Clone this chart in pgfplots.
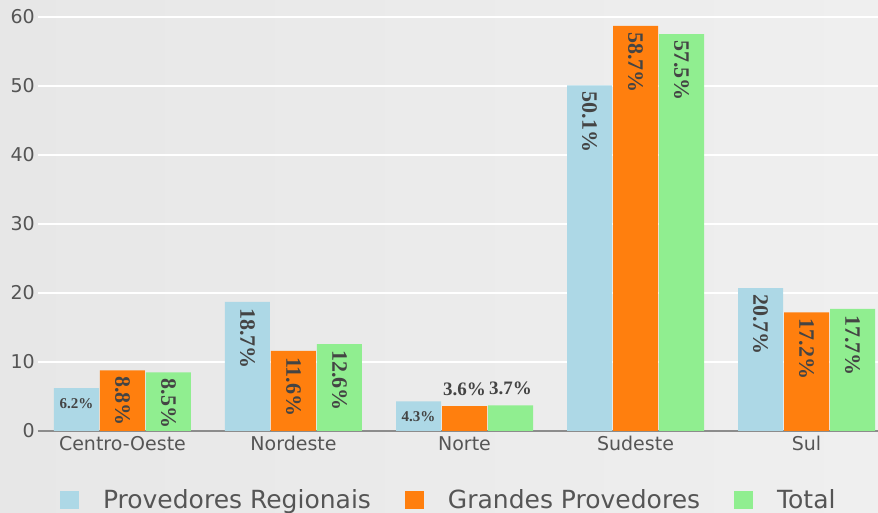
\documentclass[border=0pt]{standalone}
\usepackage{pgfplots}
\pgfplotsset{compat=1.18}
\usepackage{pgfplotstable}
\usepackage{fontspec}
\setmainfont{DejaVu Sans}
\newfontfamily\lblfont{Liberation Serif}
\definecolor{cblue}{HTML}{ADD8E6}
\definecolor{corange}{HTML}{FF7F0E}
\definecolor{cgreen}{HTML}{90EE90}
\definecolor{txtgray}{HTML}{555555}
\definecolor{lblgray}{HTML}{444444}
\definecolor{axgray}{HTML}{8C8C8C}
\definecolor{bgl}{HTML}{E7E7E7}
\definecolor{bgr}{HTML}{EFEFEF}

\pgfplotstableread{
x y lab
0 6.2 {}
1 18.7 18.7\%
2 4.3 {}
3 50.1 50.1\%
4 20.7 20.7\%
}\regionais
\pgfplotstableread{
x y lab
0 8.8 8.8\%
1 11.6 11.6\%
2 3.6 {}
3 58.7 58.7\%
4 17.2 17.2\%
}\grandes
\pgfplotstableread{
x y lab
0 8.5 8.5\%
1 12.6 12.6\%
2 3.7 {}
3 57.5 57.5\%
4 17.7 17.7\%
}\total
\pgfplotstableread{
x y lab
0 6.2 6.2\%
2 4.3 4.3\%
}\smallin
\pgfplotstableread{
x y lab
2 3.6 3.6\%
}\smallg
\pgfplotstableread{
x y lab
2 3.7 3.7\%
}\smallt

\begin{document}
\begin{tikzpicture}
\useasboundingbox (0,0) rectangle (878pt,513pt);
\shade[left color=bgl, right color=bgr] (0,0) rectangle (878pt,513pt);
\begin{axis}[
  at={(38pt,82pt)}, anchor=south west,
  scale only axis, width=840pt, height=414pt,
  xmin=-0.494, xmax=4.418, ymin=0, ymax=60,
  ybar=1pt, bar width=45pt,
  axis line style={draw=none},
  major tick length=0pt,
  ytick={0,10,...,60},
  /pgf/number format/assume math mode=true,
  ymajorgrids, grid style={white, line width=2pt},
  extra y ticks={0}, extra y tick labels={},
  extra y tick style={grid style={axgray, line width=2pt}},
  xtick={0,...,4},
  xticklabels={Centro-Oeste,Nordeste,Norte,Sudeste,Sul},
  tick label style={font=\fontsize{19}{23}\selectfont, text=txtgray},
  yticklabel style={inner sep=0pt, xshift=-3pt},
  xticklabel style={inner sep=0pt, yshift=-5pt},
  legend columns=3,
  legend style={at={(0.489,-0.166)}, anchor=center, draw=none, fill=none,
    font=\fontsize{25}{30}\selectfont, text=txtgray, inner sep=0pt,
    /tikz/every odd column/.style={column sep=22pt},
    /tikz/every even column/.style={column sep=32pt}},
  legend image code/.code={\fill[#1] (0pt,-9pt) rectangle (19pt,9pt);},
  nodes near coords={\pgfplotspointmeta},
  point meta=explicit symbolic,
  every node near coord/.append style={rotate=-90, anchor=west,
    font=\lblfont\bfseries\fontsize{22}{25}\selectfont, text=lblgray,
    inner xsep=6pt, inner ysep=0pt},
]
\addplot[fill=cblue, draw=none, bar shift=-46pt] table[x=x, y=y, meta=lab] {\regionais};
\addplot[fill=corange, draw=none, bar shift=0pt] table[x=x, y=y, meta=lab] {\grandes};
\addplot[fill=cgreen, draw=none, bar shift=46pt] table[x=x, y=y, meta=lab] {\total};
\legend{Provedores Regionais, Grandes Provedores, Total}
\addplot[draw=none, fill=none, bar shift=-46pt, forget plot,
  every node near coord/.style={xshift=-46pt, yshift=-15pt, anchor=center, inner sep=0pt, text=lblgray,
    font=\lblfont\bfseries\fontsize{15}{18}\selectfont}]
  table[x=x, y=y, meta=lab] {\smallin};
\addplot[draw=none, fill=none, bar shift=0pt, forget plot,
  every node near coord/.style={xshift=0pt, yshift=17pt, anchor=center, inner sep=0pt, text=lblgray,
    font=\lblfont\bfseries\fontsize{19}{22}\selectfont}]
  table[x=x, y=y, meta=lab] {\smallg};
\addplot[draw=none, fill=none, bar shift=46pt, forget plot,
  every node near coord/.style={xshift=46pt, yshift=17pt, anchor=center, inner sep=0pt, text=lblgray,
    font=\lblfont\bfseries\fontsize{19}{22}\selectfont}]
  table[x=x, y=y, meta=lab] {\smallt};
\end{axis}
\end{tikzpicture}
\end{document}
